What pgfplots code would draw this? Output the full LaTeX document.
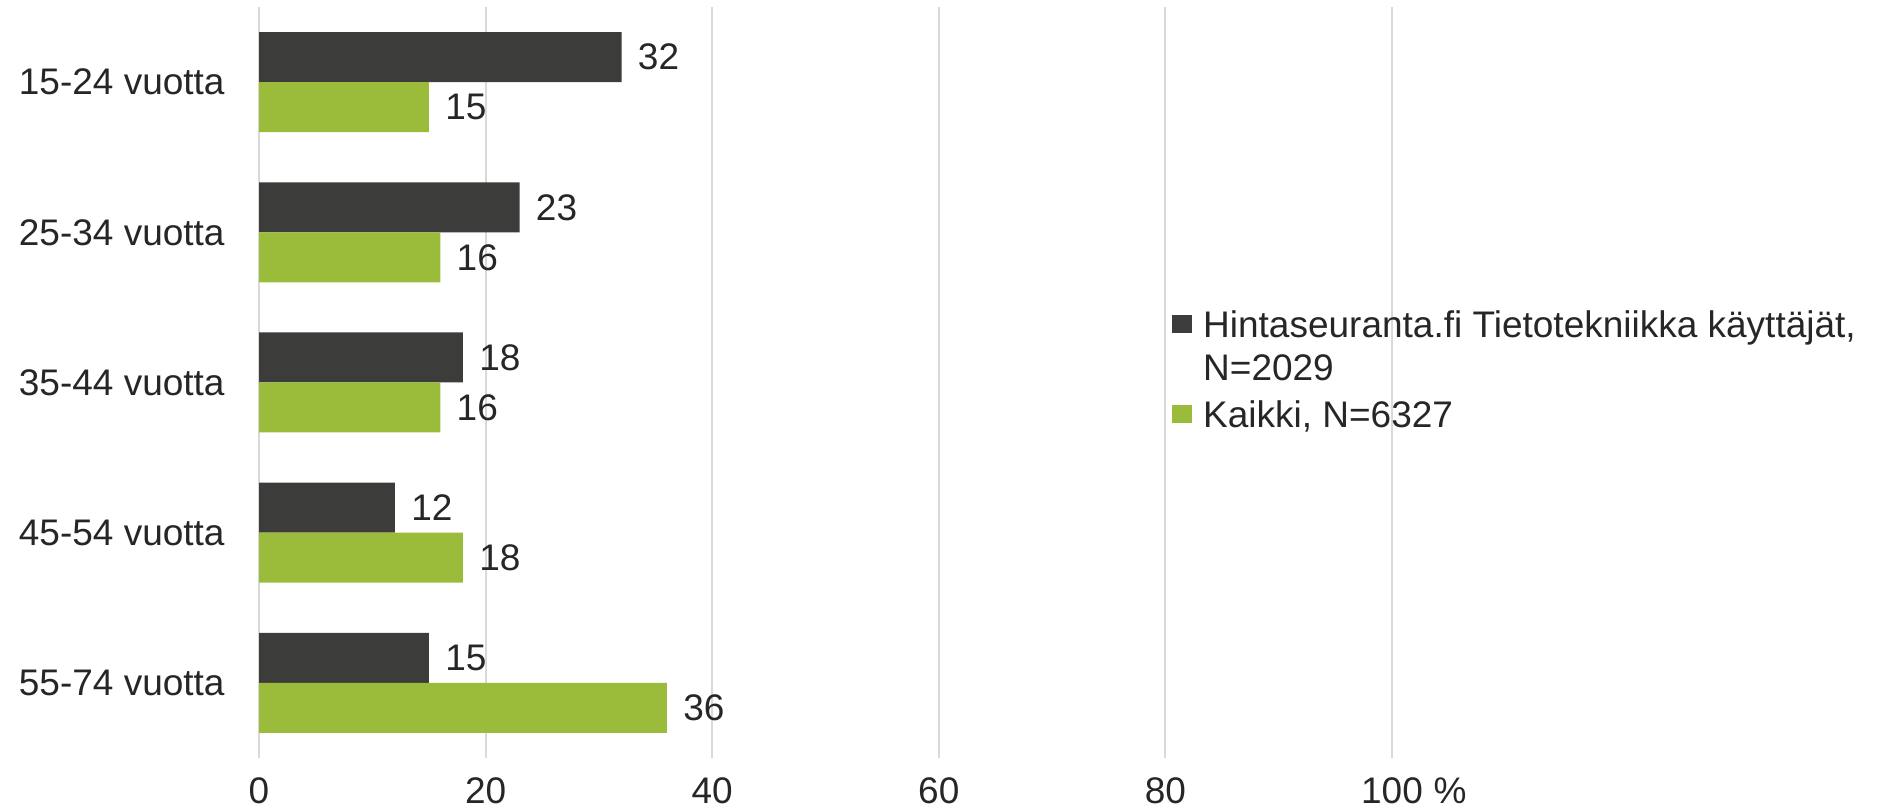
\documentclass[border=0pt]{standalone}
\usepackage{pgfplots}
\pgfplotsset{compat=1.18}
\usepackage{fontspec}
\setmainfont{Liberation Sans}

\definecolor{darkbar}{HTML}{3C3C3B}
\definecolor{greenbar}{HTML}{9BBB3B}
\definecolor{gridc}{HTML}{D9D9D9}
\definecolor{textc}{HTML}{262626}

\begin{document}
\fontsize{18.5}{21.5}\selectfont
\begin{tikzpicture}[font=\fontsize{18.5}{21.5}\selectfont, text=textc]
\useasboundingbox (0,0) rectangle (944.5pt,406pt);
\begin{axis}[
  at={(129.5pt,27pt)}, anchor=south west,
  scale only axis, width=566.5pt, height=375.5pt,
  xbar, bar width=25pt,
  xmin=0, xmax=100, ymin=-0.5, ymax=4.5,
  xtick={0,20,...,100}, ytick={0,1,2,3,4},
  yticklabels={55-74 vuotta,45-54 vuotta,35-44 vuotta,25-34 vuotta,15-24 vuotta},
  xmajorgrids, grid style={gridc, line width=1pt},
  axis line style={draw=none}, major tick length=0pt,
  /pgf/number format/assume math mode=true,
  xticklabel style={anchor=north, inner sep=0pt, yshift=-9.5pt},
  yticklabel style={anchor=east, inner sep=0pt, xshift=-17pt},
  nodes near coords,
  every node near coord/.append style={anchor=west, inner sep=0pt, xshift=8pt, text=textc},
  clip=false,
  legend style={at={(0.8058,0.5966)}, anchor=north west, draw=none, fill=none,
    inner sep=0pt, row sep=4pt, column sep=0pt,
    cells={anchor=base west},
    nodes={inner xsep=5.5pt, inner ysep=0pt, text height=13.5pt, text depth=4pt, text=textc}},
]
% Hintaseuranta.fi users
\addplot[fill=darkbar, draw=none, bar shift=12.5pt, forget plot]
  coordinates {(32,4) (23,3) (18,2) (12,1) (15,0)};
% all respondents
\addplot[fill=greenbar, draw=none, bar shift=-12.5pt, forget plot]
  coordinates {(15,4) (16,3) (16,2) (18,1) (36,0)};

\addlegendimage{legend image code/.code={\fill[darkbar] (0pt,2.35pt) rectangle (9.5pt,10.85pt);}}
\addlegendentry{Hintaseuranta.fi Tietotekniikka käyttäjät,}
\addlegendimage{empty legend}
\addlegendentry{N=2029}
\addlegendimage{legend image code/.code={\fill[greenbar] (0pt,2.35pt) rectangle (9.5pt,10.85pt);}}
\addlegendentry[text height=15.5pt]{Kaikki, N=6327}

\node[anchor=north, inner sep=0pt, yshift=-9.5pt, xshift=29pt] at (axis cs:100,-0.5) {\%};
\end{axis}
\end{tikzpicture}
\end{document}
